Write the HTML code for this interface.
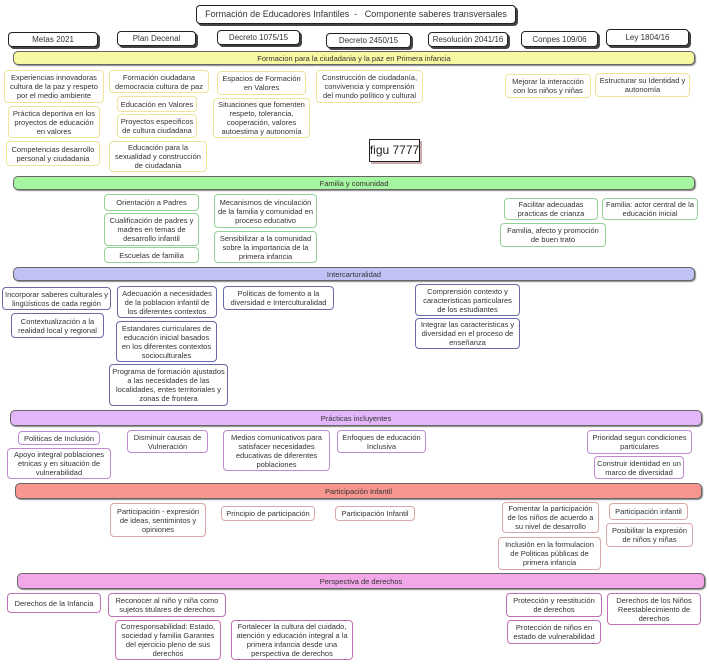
<!DOCTYPE html>
<html><head><meta charset="utf-8"><style>
body{margin:0;width:709px;height:668px;background:#fff;position:relative;overflow:hidden;font-family:"Liberation Sans",sans-serif;color:#333}
.b{position:absolute;box-sizing:border-box;display:flex;align-items:center;justify-content:center;text-align:center;font-size:7.5px;line-height:9px;border-radius:4px;background:#fff;padding:0 2px}
.h{border:1px solid #222;box-shadow:2px 2px 0 #444;font-size:8px}
.band{border:1px solid #666;border-radius:5px;font-size:7.5px;box-shadow:1px 1px 1px #888}
.y{border:1.5px solid #ece59a}
.g{border:1.5px solid #95d095}
.p{border:1.5px solid #6a6aa8}
.v{border:1.5px solid #c08ad0}
.s{border:1.5px solid #d8a8a8}
.k{border:1.5px solid #c070b8}
</style></head><body>
<div class="b h" style="left:196px;top:5px;width:320px;height:19px;font-size:9px">Formación de Educadores Infantiles &nbsp;- &nbsp; Componente saberes transversales</div>
<div class="b h" style="left:8px;top:32px;width:90px;height:15px">Metas 2021</div>
<div class="b h" style="left:117px;top:31px;width:79px;height:15px">Plan Decenal</div>
<div class="b h" style="left:217px;top:30px;width:83px;height:15px">Decreto 1075/15</div>
<div class="b h" style="left:326px;top:33px;width:85px;height:15px">Decreto 2450/15</div>
<div class="b h" style="left:428px;top:32px;width:80px;height:15px">Resolución 2041/16</div>
<div class="b h" style="left:521px;top:31px;width:77px;height:16px">Conpes 109/06</div>
<div class="b h" style="left:606px;top:29px;width:83px;height:17px">Ley 1804/16</div>

<div class="b band" style="left:13px;top:51px;width:682px;height:14px;background:#f8f7a2">Formacion para la ciudadania y la paz en Primera infancia</div>
<div class="b y" style="left:4px;top:70px;width:100px;height:33px">Experiencias innovadoras cultura de la paz y respeto por el medio ambiente</div>
<div class="b y" style="left:8px;top:106px;width:92px;height:32px">Práctica deportiva en los proyectos de educación en valores</div>
<div class="b y" style="left:6px;top:141px;width:94px;height:25px">Competencias desarrollo personal y ciudadania</div>
<div class="b y" style="left:109px;top:70px;width:100px;height:23px">Formación ciudadana democracia cultura de paz</div>
<div class="b y" style="left:117px;top:96px;width:80px;height:16px">Educación en Valores</div>
<div class="b y" style="left:117px;top:114px;width:80px;height:24px">Proyectos especificos de cultura ciudadana</div>
<div class="b y" style="left:109px;top:141px;width:98px;height:31px">Educación para la sexualidad y construcción de ciudadania</div>
<div class="b y" style="left:217px;top:71px;width:89px;height:24px">Espacios de Formación en Valores</div>
<div class="b y" style="left:213px;top:98px;width:97px;height:40px">Situaciones que fomenten respeto, tolerancia, cooperación, valores autoestima y autonomía</div>
<div class="b y" style="left:316px;top:70px;width:107px;height:33px">Construcción de ciudadanía, convivencia y comprensión del mundo político y cultural</div>
<div class="b y" style="left:505px;top:74px;width:86px;height:24px">Mejorar la interacción con los niños y niñas</div>
<div class="b y" style="left:595px;top:73px;width:95px;height:24px">Estructurar su Identidad y autonomía</div>
<div class="b" style="left:369px;top:139px;width:51px;height:23px;border:1px solid #222;border-radius:0;box-shadow:2px 2px 0 #caa;font-size:12px;white-space:nowrap;padding:0;color:#222">figu 7777</div>

<div class="b band" style="left:13px;top:176px;width:682px;height:14px;background:#a6f5a0">Familia y comunidad</div>
<div class="b g" style="left:104px;top:194px;width:95px;height:17px">Orientación a Padres</div>
<div class="b g" style="left:104px;top:213px;width:95px;height:33px">Cualificación de padres y madres en temas de desarrollo infantil</div>
<div class="b g" style="left:104px;top:247px;width:95px;height:16px">Escuelas de familia</div>
<div class="b g" style="left:214px;top:194px;width:103px;height:34px">Mecanismos de vinculación de la familia y comunidad en proceso educativo</div>
<div class="b g" style="left:214px;top:231px;width:103px;height:32px">Sensibilizar a la comunidad sobre la importancia de la primera infancia</div>
<div class="b g" style="left:504px;top:198px;width:94px;height:22px">Facilitar adecuadas practicas de crianza</div>
<div class="b g" style="left:500px;top:223px;width:106px;height:24px">Familia, afecto y promoción de buen trato</div>
<div class="b g" style="left:602px;top:198px;width:96px;height:22px">Familia: actor central de la educación inicial</div>

<div class="b band" style="left:13px;top:267px;width:682px;height:14px;background:#c0c2f6">Intercarturalidad</div>
<div class="b p" style="left:2px;top:287px;width:109px;height:23px">Incorporar saberes culturales y lingüísticos de cada región</div>
<div class="b p" style="left:11px;top:313px;width:93px;height:25px">Contextualización a la realidad local y regional</div>
<div class="b p" style="left:117px;top:286px;width:100px;height:32px">Adecuación a necesidades de la poblacion infantil de los diferentes contextos</div>
<div class="b p" style="left:116px;top:321px;width:101px;height:41px">Estandares curriculares de educación inicial basados en los diferentes contextos socioculturales</div>
<div class="b p" style="left:109px;top:364px;width:119px;height:42px">Programa de formación ajustados a las necesidades de las localidades, entes territoriales y zonas de frontera</div>
<div class="b p" style="left:223px;top:286px;width:111px;height:24px">Politicas de fomento a la diversidad e Interculturalidad</div>
<div class="b p" style="left:415px;top:284px;width:105px;height:32px">Comprensión contexto y caracteristicas particulares de los estudiantes</div>
<div class="b p" style="left:415px;top:318px;width:105px;height:31px">Integrar las caracteristicas y diversidad en el proceso de enseñanza</div>

<div class="b band" style="left:10px;top:410px;width:692px;height:16px;background:#e2b6f8">Prácticas incluyentes</div>
<div class="b v" style="left:18px;top:431px;width:82px;height:14px">Politicas de Inclusión</div>
<div class="b v" style="left:7px;top:448px;width:104px;height:31px">Apoyo integral poblaciones etnicas y en situación de vulnerabilidad</div>
<div class="b v" style="left:127px;top:430px;width:81px;height:23px">Disminuir causas de Vulneración</div>
<div class="b v" style="left:223px;top:430px;width:107px;height:41px">Medios comunicativos para satisfacer necesidades educativas de diferentes poblaciones</div>
<div class="b v" style="left:337px;top:430px;width:89px;height:23px">Enfoques de educación Inclusiva</div>
<div class="b v" style="left:587px;top:430px;width:105px;height:24px">Prioridad segun condiciones particulares</div>
<div class="b v" style="left:594px;top:456px;width:90px;height:23px">Construir identidad en un marco de diversidad</div>

<div class="b band" style="left:15px;top:483px;width:687px;height:16px;background:#f7958f">Participación Infantil</div>
<div class="b s" style="left:110px;top:503px;width:96px;height:34px">Participación - expresión de ideas, sentimintos y opiniones</div>
<div class="b s" style="left:221px;top:506px;width:94px;height:15px">Principio de participación</div>
<div class="b s" style="left:335px;top:506px;width:80px;height:15px">Participación Infantil</div>
<div class="b s" style="left:502px;top:502px;width:97px;height:31px">Fomentar la participación de los niños de acuerdo a su nivel de desarrollo</div>
<div class="b s" style="left:498px;top:537px;width:103px;height:33px">Inclusión en la formulacion de Politicas públicas de primera infancia</div>
<div class="b s" style="left:609px;top:503px;width:79px;height:17px">Participación infantil</div>
<div class="b s" style="left:606px;top:523px;width:87px;height:24px">Posibilitar la expresión de niños y niñas</div>

<div class="b band" style="left:17px;top:573px;width:688px;height:16px;background:#f2a8e8">Perspectiva de derechos</div>
<div class="b k" style="left:7px;top:593px;width:94px;height:20px">Derechos de la Infancia</div>
<div class="b k" style="left:108px;top:593px;width:118px;height:24px">Reconocer al niño y niña como sujetos titulares de derechos</div>
<div class="b k" style="left:115px;top:620px;width:106px;height:40px">Corresponsabilidad: Estado, sociedad y familia Garantes del ejercicio pleno de sus derechos</div>
<div class="b k" style="left:231px;top:620px;width:122px;height:40px">Fortalecer la cultura del cuidado, atención y educación integral a la primera infancia desde una perspectiva de derechos</div>
<div class="b k" style="left:506px;top:593px;width:96px;height:24px">Protección y reestitución de derechos</div>
<div class="b k" style="left:507px;top:620px;width:94px;height:24px">Protección de niños en estado de vulnerabilidad</div>
<div class="b k" style="left:607px;top:593px;width:94px;height:32px">Derechos de los Niños Reestablecimiento de derechos</div>
</body></html>
